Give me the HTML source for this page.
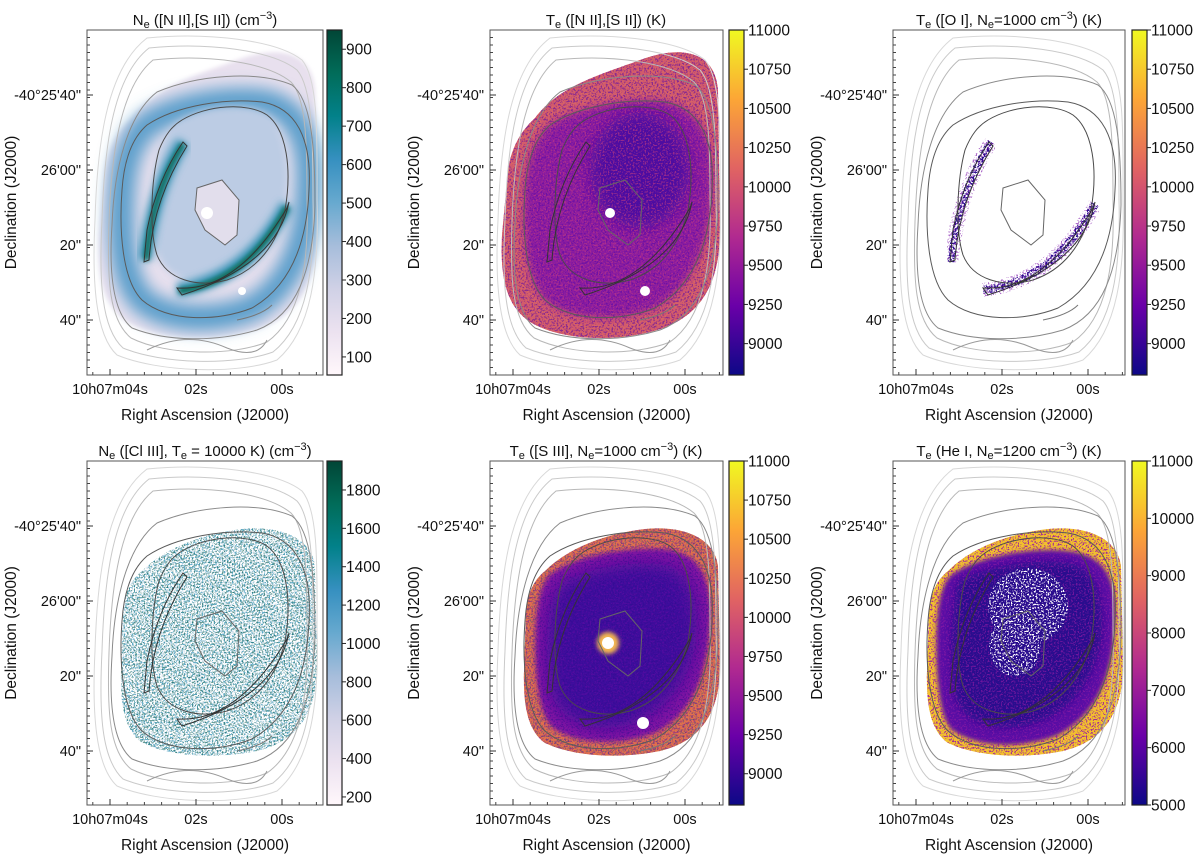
<!DOCTYPE html>
<html><head><meta charset="utf-8"><style>
html,body{margin:0;padding:0;background:#fff;}
svg{display:block;font-family:"Liberation Sans",Arial,sans-serif;}
</style></head><body>
<svg id="fig" width="1200" height="857" viewBox="0 0 1200 857">
<defs>
 <filter id="b2" x="-20%" y="-20%" width="140%" height="140%"><feGaussianBlur stdDeviation="2"/></filter>
 <filter id="b4" x="-20%" y="-20%" width="140%" height="140%"><feGaussianBlur stdDeviation="4"/></filter>
 <filter id="b8" x="-30%" y="-30%" width="160%" height="160%"><feGaussianBlur stdDeviation="8"/></filter>
 <filter id="spkD" x="-10%" y="-10%" width="120%" height="120%"><feTurbulence type="fractalNoise" baseFrequency="0.55" numOctaves="2" seed="3"/><feColorMatrix type="matrix" values="0 0 0 0 0 0 0 0 0 0 0 0 0 0 0 0 0 0 14 -6.6"/><feComposite in="SourceGraphic" operator="in"/></filter>
 <filter id="spkS" x="-10%" y="-10%" width="120%" height="120%"><feTurbulence type="fractalNoise" baseFrequency="0.6" numOctaves="2" seed="7"/><feColorMatrix type="matrix" values="0 0 0 0 0 0 0 0 0 0 0 0 0 0 0 0 0 0 16 -9"/><feComposite in="SourceGraphic" operator="in"/></filter>
 <filter id="spkM" x="-10%" y="-10%" width="120%" height="120%"><feTurbulence type="fractalNoise" baseFrequency="0.55" numOctaves="2" seed="11"/><feColorMatrix type="matrix" values="0 0 0 0 0 0 0 0 0 0 0 0 0 0 0 0 0 0 14 -7.4"/><feComposite in="SourceGraphic" operator="in"/></filter>
 <linearGradient id="gPu" x1="0" y1="1" x2="0" y2="0">
  <stop offset="0" stop-color="#fff7fb"/><stop offset="0.125" stop-color="#ece2f0"/><stop offset="0.25" stop-color="#d0d1e6"/><stop offset="0.375" stop-color="#a6bddb"/><stop offset="0.5" stop-color="#67a9cf"/><stop offset="0.625" stop-color="#3690c0"/><stop offset="0.75" stop-color="#02818a"/><stop offset="0.875" stop-color="#016c59"/><stop offset="1" stop-color="#014636"/>
 </linearGradient>
 <linearGradient id="gPl" x1="0" y1="1" x2="0" y2="0">
  <stop offset="0" stop-color="#0d0887"/><stop offset="0.2" stop-color="#6a00a8"/><stop offset="0.4" stop-color="#b12a90"/><stop offset="0.6" stop-color="#e16462"/><stop offset="0.8" stop-color="#fca636"/><stop offset="1" stop-color="#f0f921"/>
 </linearGradient>
 <clipPath id="clip"><rect x="0" y="0" width="236" height="345"/></clipPath>
 <path id="nebShape" d="M45,88 C70,55 110,45 150,30 C190,15 225,20 228,60 L230,200 C230,255 210,290 160,302 C120,312 70,310 40,292 C15,275 10,245 12,205 L18,140 C22,115 32,100 45,88 Z"/>
 <path id="nebShape2" d="M55,110 C80,85 120,72 155,68 C195,64 225,78 228,105 L230,205 C230,250 212,280 170,290 C130,298 85,296 55,282 C38,270 33,245 34,210 L36,150 C38,130 45,118 55,110 Z"/>
 <clipPath id="neb"><use href="#nebShape"/></clipPath>
 <clipPath id="neb2"><use href="#nebShape2"/></clipPath>
 <g id="contours" fill="none" stroke-width="1">
  <path d="M60,8 C120,2 190,10 215,30 C232,50 230,110 230,170 C232,240 225,300 190,330 C150,345 70,342 30,325 C8,305 5,250 8,190 C10,120 18,40 60,8 Z" stroke="#d8d8d8"/>
  <path d="M62,18 C120,12 185,20 210,40 C226,58 226,115 226,170 C228,238 220,295 186,322 C148,336 74,334 36,318 C14,298 12,250 15,190 C17,125 24,48 62,18 Z" stroke="#cacaca"/>
  <path d="M66,30 C120,24 180,32 204,52 C220,68 220,120 220,170 C222,234 214,288 180,312 C146,326 80,326 44,308 C22,290 20,250 22,192 C24,130 32,58 66,30 Z" stroke="#b8b8b8"/>
  <path d="M70,62 C110,45 170,40 205,55 C225,70 228,120 228,175 C226,240 210,285 170,300 C130,312 80,312 45,298 C25,282 22,240 25,195 C27,140 40,85 70,62 Z" stroke="#8a8a8a"/>
  <path d="M60,95 C90,75 140,68 175,72 C210,78 225,110 222,160 C220,210 205,255 165,278 C130,292 80,292 55,270 C35,250 32,200 35,160 C37,130 45,108 60,95 Z" stroke="#5a5a5a"/>
  <path d="M95,90 C120,75 160,72 180,85 C200,100 205,140 198,180 C190,215 170,240 140,250 C110,258 80,250 70,225 C62,200 64,150 72,120 C78,105 85,96 95,90 Z" stroke="#4a4a4a"/>
  <path d="M110,158 L135,150 L152,170 L150,205 L138,215 L118,200 L108,180 Z" stroke="#666"/>
  <path d="M96,112 Q70,150 60,200 L57,232 L62,230 Q66,170 100,116 Z" stroke="#333"/>
  <path d="M90,258 Q150,262 200,178 L202,172 Q190,235 95,265 Z" stroke="#333"/>
  <path d="M150,290 Q175,285 185,275" stroke="#777"/>
  <path d="M60,320 Q100,300 140,318 Q170,330 180,310" stroke="#999"/>
 </g>
</defs>

<!-- Panel 1 -->
<g transform="translate(87,30)">
 <g clip-path="url(#clip)">
  <use href="#nebShape" fill="#e8e0ee" filter="url(#b2)"/>
  <path d="M60,95 C90,75 140,68 175,72 C210,78 225,110 222,160 C220,210 205,255 165,278 C130,292 80,292 55,270 C35,250 32,200 35,160 C37,130 45,108 60,95 Z" fill="none" stroke="#5a9ecb" stroke-width="26" filter="url(#b8)"/>
  <path d="M95,90 C120,75 160,72 180,85 C200,100 205,140 198,180 C190,215 170,240 140,250 C110,258 80,250 70,225 C62,200 64,150 72,120 C78,105 85,96 95,90 Z" fill="#bccce4" filter="url(#b4)"/>
  <path d="M110,158 L135,150 L152,170 L150,205 L138,215 L118,200 L108,180 Z" fill="#e2deec"/>
  <path d="M96,112 Q66,160 58,230" fill="none" stroke="#3a94b8" stroke-width="14" filter="url(#b4)"/>
  <path d="M90,260 Q160,250 200,175" fill="none" stroke="#3a94b8" stroke-width="14" filter="url(#b4)"/>
  <path d="M96,114 Q66,160 59,230" fill="none" stroke="#0d6e5c" stroke-width="5" filter="url(#b2)"/>
  <path d="M92,261 Q160,252 200,177" fill="none" stroke="#0d6e5c" stroke-width="6" filter="url(#b2)"/>
  <circle cx="120" cy="183" r="6" fill="#fff"/>
  <circle cx="155" cy="261" r="4" fill="#fff"/>
  <use href="#contours"/>
 </g>
 <rect x="0" y="0" width="236" height="345" fill="none" stroke="#555"/>
</g>

<!-- Panel 2 -->
<g transform="translate(490,30)">
 <g clip-path="url(#clip)">
  <g clip-path="url(#neb)">
   <rect x="0" y="0" width="236" height="345" fill="#d25a6c"/>
   <rect x="0" y="0" width="236" height="345" fill="#f6a43a" filter="url(#spkS)"/>
   <path d="M60,95 C90,75 140,68 175,72 C210,78 225,110 222,160 C220,210 205,255 165,278 C130,292 80,292 55,270 C35,250 32,200 35,160 C37,130 45,108 60,95 Z" fill="#8c1ba0" filter="url(#b4)"/>
   <ellipse cx="150" cy="140" rx="50" ry="58" fill="#4c0ca0" filter="url(#b8)"/>
   <rect x="0" y="0" width="236" height="345" fill="#5a0ca6" filter="url(#spkM)" opacity="0.6"/>
   <rect x="0" y="0" width="236" height="345" fill="#c43e80" filter="url(#spkS)" opacity="0.6"/>
  </g>
  <circle cx="120" cy="183" r="5" fill="#fff"/>
  <circle cx="155" cy="261" r="5" fill="#fff"/>
  <use href="#contours"/>
 </g>
 <rect x="0" y="0" width="233" height="345" fill="none" stroke="#555"/>
</g>

<!-- Panel 3 -->
<g transform="translate(893,30)">
 <g clip-path="url(#clip)">
  <path d="M98,112 Q66,160 58,232" fill="none" stroke="#2a0a8e" stroke-width="7" filter="url(#spkD)"/>
  <path d="M90,260 Q160,252 202,174" fill="none" stroke="#2a0a8e" stroke-width="8" filter="url(#spkD)"/>
  <path d="M98,112 Q66,160 58,232" fill="none" stroke="#7a10a8" stroke-width="14" filter="url(#spkS)" opacity="0.6"/>
  <path d="M90,260 Q160,252 202,174" fill="none" stroke="#7a10a8" stroke-width="14" filter="url(#spkS)" opacity="0.6"/>
  <use href="#contours"/>
 </g>
 <rect x="0" y="0" width="232" height="345" fill="none" stroke="#555"/>
</g>

<!-- Panel 4 -->
<g transform="translate(87,461)">
 <g clip-path="url(#clip)">
  <g clip-path="url(#neb2)">
   <rect x="0" y="0" width="236" height="345" fill="#c6d6e8" filter="url(#spkS)" opacity="0.7"/>
   <rect x="0" y="0" width="236" height="345" fill="#4aa0c0" filter="url(#spkS)" transform="translate(2,3)" opacity="0.85"/>
   <rect x="0" y="0" width="236" height="345" fill="#0b5e52" filter="url(#spkS)" transform="translate(-3,1)" opacity="0.6"/>
  </g>
  <use href="#contours"/>
 </g>
 <rect x="0" y="0" width="236" height="344" fill="none" stroke="#555"/>
</g>

<!-- Panel 5 -->
<g transform="translate(490,461)">
 <g clip-path="url(#clip)">
  <g clip-path="url(#neb2)">
   <rect x="0" y="0" width="236" height="345" fill="#e2704c"/>
   <rect x="0" y="0" width="236" height="345" fill="#fcb838" filter="url(#spkS)"/>
   <path d="M62,112 C92,92 140,86 175,88 C210,92 222,117 220,160 C218,210 205,252 165,272 C130,285 85,284 62,266 C46,250 44,200 46,160 C48,137 52,120 62,112 Z" fill="#8418a2" filter="url(#b2)"/>
   <path d="M75,120 C105,105 150,98 180,105 C205,115 210,150 205,185 C198,225 170,255 135,265 C100,272 72,260 62,235 C55,205 56,160 62,140 C66,128 70,124 75,120 Z" fill="#3e0c9c" filter="url(#b8)"/>
   <rect x="0" y="0" width="236" height="345" fill="#6a10a6" filter="url(#spkM)" opacity="0.45"/>
   <rect x="0" y="0" width="236" height="345" fill="#2e0a8e" filter="url(#spkS)" opacity="0.5"/>
  </g>
  <circle cx="118" cy="182" r="11" fill="#f4b850" filter="url(#b2)"/>
  <circle cx="118" cy="182" r="6" fill="#fff"/>
  <circle cx="153" cy="262" r="6" fill="#fff"/>
  <use href="#contours"/>
 </g>
 <rect x="0" y="0" width="233" height="344" fill="none" stroke="#555"/>
</g>

<!-- Panel 6 -->
<g transform="translate(893,461)">
 <g clip-path="url(#clip)">
  <g clip-path="url(#neb2)">
   <rect x="0" y="0" width="236" height="345" fill="#f2c02e"/>
   <rect x="0" y="0" width="236" height="345" fill="#e05c6a" filter="url(#spkS)"/>
   <path d="M58,114 C88,94 140,86 175,90 C212,94 224,117 222,160 C220,212 206,252 165,274 C130,288 84,288 58,268 C44,252 42,200 44,160 C46,137 50,122 58,114 Z" fill="#5a0ca4" filter="url(#b2)"/>
   <path d="M66,120 C95,104 145,97 178,102 C205,110 212,140 208,180 C200,222 175,254 135,264 C97,272 70,260 62,236 C56,205 58,160 62,140 C63,130 63,124 66,120 Z" fill="#2c0a8e" filter="url(#b4)"/>
   <rect x="0" y="0" width="236" height="345" fill="#8a1aa4" filter="url(#spkS)" opacity="0.7"/>
   <ellipse cx="135" cy="145" rx="40" ry="38" fill="#fff" filter="url(#spkS)"/>
   <ellipse cx="122" cy="185" rx="26" ry="30" fill="#fff" filter="url(#spkS)"/>
  </g>
  <use href="#contours"/>
 </g>
 <rect x="0" y="0" width="232" height="344" fill="none" stroke="#555"/>
</g>

<!-- Titles -->
<g font-size="15" fill="#111" text-anchor="middle">
 <text x="205" y="25">N<tspan font-size="11" dy="3">e</tspan><tspan dy="-3"> ([N II],[S II]) (cm</tspan><tspan font-size="11" dy="-6">−3</tspan><tspan dy="6">)</tspan></text>
 <text x="606" y="25">T<tspan font-size="11" dy="3">e</tspan><tspan dy="-3"> ([N II],[S II]) (K)</tspan></text>
 <text x="1009" y="25">T<tspan font-size="11" dy="3">e</tspan><tspan dy="-3"> ([O I], N</tspan><tspan font-size="11" dy="3">e</tspan><tspan dy="-3">=1000 cm</tspan><tspan font-size="11" dy="-6">−3</tspan><tspan dy="6">) (K)</tspan></text>
 <text x="205" y="456">N<tspan font-size="11" dy="3">e</tspan><tspan dy="-3"> ([Cl III], T</tspan><tspan font-size="11" dy="3">e</tspan><tspan dy="-3"> = 10000 K) (cm</tspan><tspan font-size="11" dy="-6">−3</tspan><tspan dy="6">)</tspan></text>
 <text x="606" y="456">T<tspan font-size="11" dy="3">e</tspan><tspan dy="-3"> ([S III], N</tspan><tspan font-size="11" dy="3">e</tspan><tspan dy="-3">=1000 cm</tspan><tspan font-size="11" dy="-6">−3</tspan><tspan dy="6">) (K)</tspan></text>
 <text x="1009" y="456">T<tspan font-size="11" dy="3">e</tspan><tspan dy="-3"> (He I, N</tspan><tspan font-size="11" dy="3">e</tspan><tspan dy="-3">=1200 cm</tspan><tspan font-size="11" dy="-6">−3</tspan><tspan dy="6">) (K)</tspan></text>
</g>
<g id="axes"></g>
</svg>
<script>
// colorbar data
var cbTicks1 = [100,200,300,400,500,600,700,800,900];
var cbRange1 = [53,950];
var cbTicksPl = [9000,9250,9500,9750,10000,10250,10500,10750,11000];
var cbRangePl = [8800,11000];
var cbTicks4 = [200,400,600,800,1000,1200,1400,1600,1800];
var cbRange4 = [158,1951];
var cbTicks6 = [5000,6000,7000,8000,9000,10000,11000];
var cbRange6 = [5000,11000];
var yTickLabels = ["-40°25'40\"","26'00\"","20\"","40\""];
var xTickLabels = ["10h07m04s","02s","00s"];

var NS="http://www.w3.org/2000/svg";
var axes=document.getElementById('axes');
function mk(tag,attrs,parent){var e=document.createElementNS(NS,tag);for(var k in attrs)e.setAttribute(k,attrs[k]);(parent||axes).appendChild(e);return e;}

var panels=[
 {x:87,y:30,w:236,h:345,cb:327,grad:'gPu',ticks:cbTicks1,range:cbRange1,id:'ne-nii-sii'},
 {x:490,y:30,w:233,h:345,cb:729,grad:'gPl',ticks:cbTicksPl,range:cbRangePl,id:'te-nii-sii'},
 {x:893,y:30,w:232,h:345,cb:1132,grad:'gPl',ticks:cbTicksPl,range:cbRangePl,id:'te-oi'},
 {x:87,y:461,w:236,h:344,cb:327,grad:'gPu',ticks:cbTicks4,range:cbRange4,id:'ne-cliii'},
 {x:490,y:461,w:233,h:344,cb:729,grad:'gPl',ticks:cbTicksPl,range:cbRangePl,id:'te-siii'},
 {x:893,y:461,w:232,h:344,cb:1132,grad:'gPl',ticks:cbTicks6,range:cbRange6,id:'te-hei'}
];
var yTickPos=[65,140,215,290], xTickPos=[23,109,195];

panels.forEach(function(p){
 var bar=mk('rect',{x:p.cb,y:p.y,width:15,height:p.h,fill:'url(#'+p.grad+')',stroke:'#222','stroke-width':1.2});
 
 
 var cy=function(v){return p.y+p.h-(v-p.range[0])/(p.range[1]-p.range[0])*p.h;};
 p.ticks.forEach(function(v){
  var y=cy(v);
  var tk=mk('line',{x1:p.cb+15,x2:p.cb+19,y1:y,y2:y,stroke:'#222'});
  
  
  var t=mk('text',{x:p.cb+19,y:y+5.5,'font-size':15.5,fill:'#111'});
  t.textContent=v;
  
  
 });
 for(var yy=7.5; yy<p.h; yy+=7.5){
  var m=mk('line',{x1:p.x,x2:p.x+3,y1:p.y+yy,y2:p.y+yy,stroke:'#444'});
  
  
 }
 for(var xx=5.8; xx<p.w; xx+=17.2){
  var m2=mk('line',{x1:p.x+xx,x2:p.x+xx,y1:p.y+p.h,y2:p.y+p.h-3,stroke:'#444'});
  
  
 }
 yTickLabels.forEach(function(s,i){
  var y=p.y+yTickPos[i];
  var l=mk('line',{x1:p.x,x2:p.x+6,y1:y,y2:y,stroke:'#333'});
  
  
  var t=mk('text',{x:p.x-6,y:y+5,'font-size':14.5,fill:'#111','text-anchor':'end'});
  t.textContent=s;
  
  
 });
 xTickLabels.forEach(function(s,i){
  var x=p.x+xTickPos[i];
  var l=mk('line',{x1:x,x2:x,y1:p.y+p.h,y2:p.y+p.h-6,stroke:'#333'});
  
  
  var t=mk('text',{x:x,y:p.y+p.h+19,'font-size':14.5,fill:'#111','text-anchor':'middle'});
  t.textContent=s;
  
  
 });
 var xl=mk('text',{x:p.x+p.w/2,y:p.y+p.h+45,'font-size':15.5,fill:'#111','text-anchor':'middle'});
 xl.textContent='Right Ascension (J2000)';
 
 
 var yx=p.x-71, ymid=p.y+p.h/2;
 var yl=mk('text',{x:yx,y:ymid,'font-size':15.5,fill:'#111','text-anchor':'middle',transform:'rotate(-90 '+yx+' '+ymid+')'});
 yl.textContent='Declination (J2000)';
 
 
});
</script>
</body></html>
